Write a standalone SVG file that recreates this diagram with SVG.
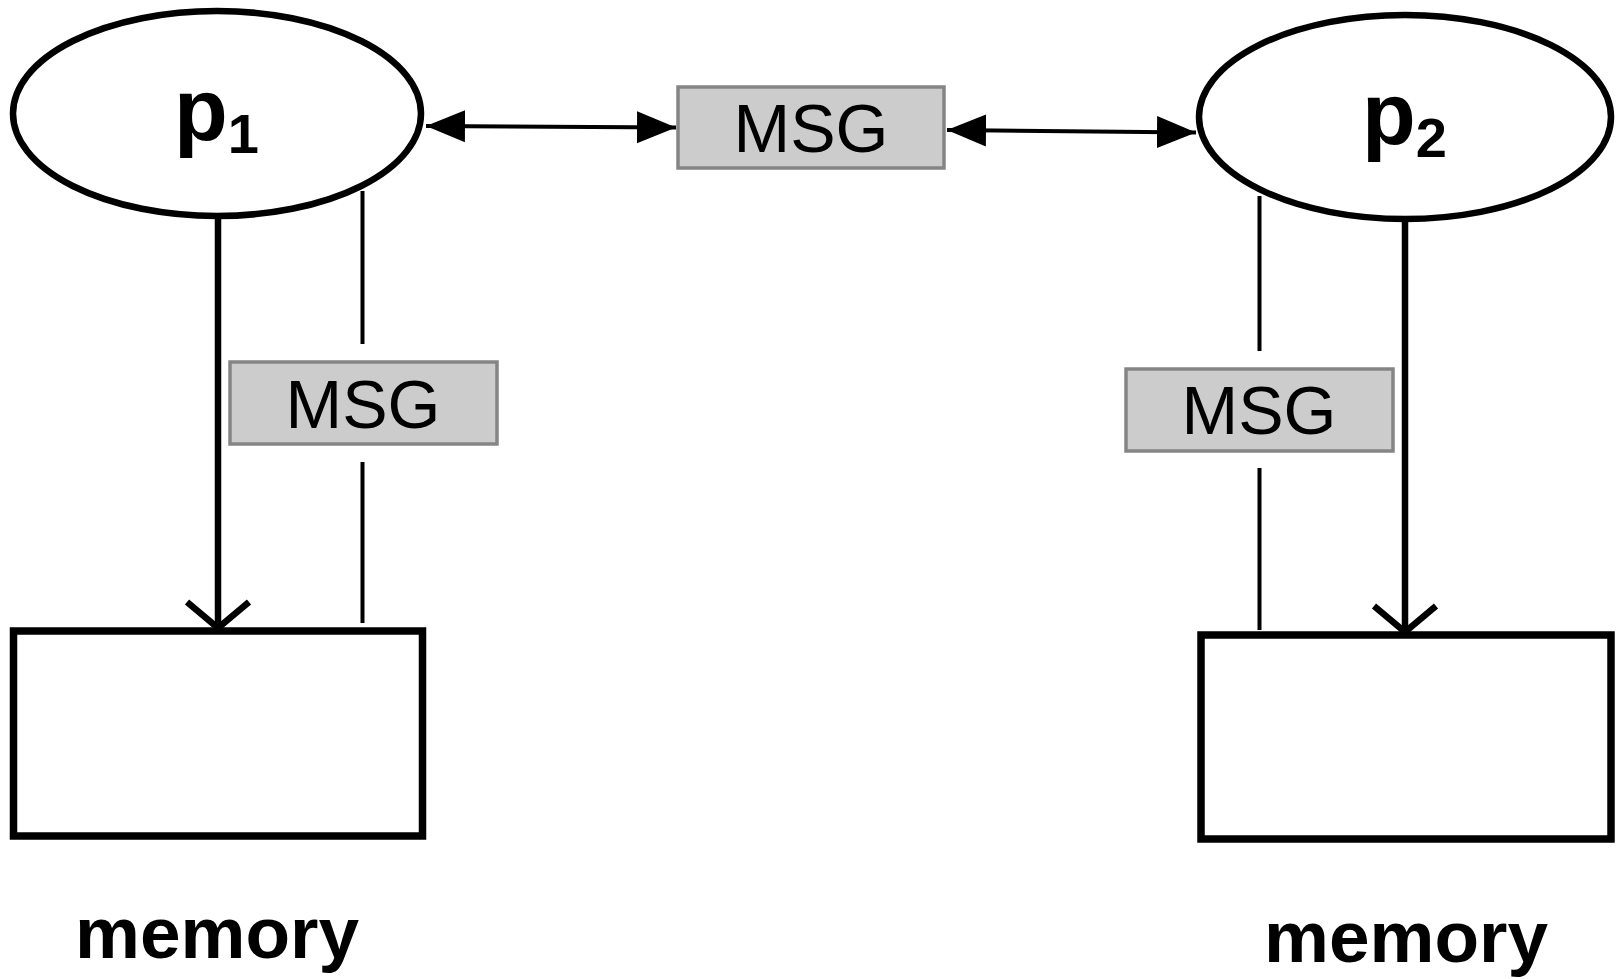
<svg xmlns="http://www.w3.org/2000/svg" width="1620" height="979" viewBox="0 0 1620 979">
<style>
  .proc { fill: #ffffff; stroke: #000000; stroke-width: 6.5; }
  .mem { fill: #ffffff; stroke: #000000; stroke-width: 7.5; }
  .msg { fill: #cccccc; stroke: #858585; stroke-width: 3.5; }
  .msgtxt { font-family: "Liberation Sans", Arial, sans-serif; font-size: 68px; fill: #000; text-anchor: middle; }
  .ptxt { font-family: "Liberation Sans", Arial, sans-serif; font-weight: bold; font-size: 88px; fill: #000; }
  .memtxt { font-family: "Liberation Sans", Arial, sans-serif; font-weight: bold; font-size: 73px; fill: #000; text-anchor: middle; }
  .harrow { stroke: #000; stroke-width: 4; fill: none; }
  .varrow { stroke: #000; stroke-width: 6.5; fill: none; }
  .thin { stroke: #000; stroke-width: 4; fill: none; }
</style>
<defs>
  <marker id="tri" markerUnits="userSpaceOnUse" markerWidth="40" markerHeight="34" viewBox="0 0 40 34" refX="39" refY="17" orient="auto-start-reverse">
    <path d="M0,1 L39,17 L0,33 z" fill="#000"/>
  </marker>
  <marker id="vee" markerUnits="userSpaceOnUse" markerWidth="40" markerHeight="80" viewBox="-34 -40 40 80" refX="0" refY="0" orient="auto" overflow="visible">
    <path d="M-26,-31 L0,0 L-26,31" fill="none" stroke="#000" stroke-width="6.5"/>
  </marker>
</defs>
<rect width="1620" height="979" fill="#ffffff"/>

<g id="connectors">
  <line class="harrow" x1="426" y1="126" x2="676" y2="127.5" marker-start="url(#tri)" marker-end="url(#tri)"/>
  <line class="harrow" x1="947" y1="130" x2="1196" y2="132.5" marker-start="url(#tri)" marker-end="url(#tri)"/>
  <line class="varrow" x1="218" y1="218" x2="218" y2="628" marker-end="url(#vee)"/>
  <line class="varrow" x1="1405" y1="221" x2="1405" y2="632" marker-end="url(#vee)"/>
  <line class="thin" x1="362.5" y1="191" x2="362.5" y2="344"/>
  <line class="thin" x1="362.5" y1="462" x2="362.5" y2="623"/>
  <line class="thin" x1="1259.5" y1="196" x2="1259.5" y2="351"/>
  <line class="thin" x1="1259.5" y1="468" x2="1259.5" y2="630"/>
</g>

<g id="p1">
  <ellipse class="proc" cx="217" cy="113.5" rx="204" ry="102.5"/>
  <text class="ptxt" x="174" y="140">p<tspan font-size="56" dy="13">1</tspan></text>
</g>

<g id="p2">
  <ellipse class="proc" cx="1405" cy="117" rx="206" ry="102"/>
  <text class="ptxt" x="1362" y="144">p<tspan font-size="56" dy="13">2</tspan></text>
</g>

<g id="msg-top">
  <rect class="msg" x="678" y="87" width="266" height="81"/>
  <text class="msgtxt" x="811" y="152">MSG</text>
</g>

<g id="msg-left">
  <rect class="msg" x="230" y="362" width="267" height="82"/>
  <text class="msgtxt" x="363" y="428">MSG</text>
</g>

<g id="msg-right">
  <rect class="msg" x="1126" y="369" width="267" height="82"/>
  <text class="msgtxt" x="1259" y="434">MSG</text>
</g>

<g id="memory1">
  <rect class="mem" x="13.5" y="631" width="409" height="205"/>
  <text class="memtxt" x="217" y="958">memory</text>
</g>

<g id="memory2">
  <rect class="mem" x="1201" y="635" width="410" height="204"/>
  <text class="memtxt" x="1406" y="962">memory</text>
</g>
</svg>
